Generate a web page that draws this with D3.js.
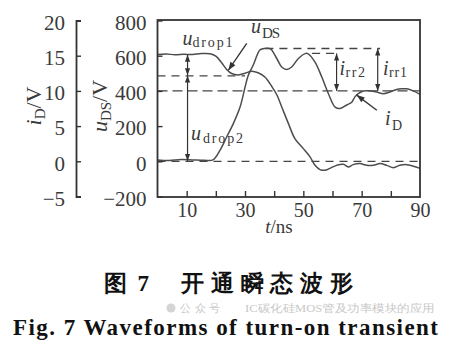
<!DOCTYPE html>
<html><head><meta charset="utf-8">
<script src="https://cdn.jsdelivr.net/npm/d3@7"></script>
<style>
html,body{margin:0;padding:0;background:#fff;}
svg{display:block;}
text{font-family:"Liberation Serif","DejaVu Serif",serif;}
</style></head>
<body>
<svg id="chart" width="455" height="343"></svg>
<script>
// ---------- data ----------
const tU  = [0, 3, 6, 9, 12, 15, 18, 20, 22, 23.7, 25.4, 27.7, 30, 32.3, 34.5, 36.9, 39.2, 40.9, 42.6, 44.9, 47.1, 50, 52.3, 54, 55.7, 57.4, 59.1, 61.4, 63.7, 65.4, 67.1, 69.4, 71.7, 74, 76.3, 78.6, 80.9, 83.1, 85.4, 87.7, 90];
const uDS = [607, 610, 605, 608, 607, 612, 611, 598, 560, 522, 499, 491, 500, 512, 503, 478, 425, 378, 309, 214, 129, 72, 25, -23, -47, -51, -40, -23, -17, -32, -19, -13, -23, -23, -13, -23, -36, -23, -19, -28, -40];
const tI  = [0, 4, 8, 12, 16, 19, 21.4, 23.7, 26, 28.3, 30, 31.1, 32.8, 35.1, 36.3, 38.6, 40.9, 42.6, 44.3, 46, 48.3, 50.6, 51.5, 54, 56.3, 58.6, 60.9, 62.6, 64.9, 66.6, 67.7, 68.8, 70.6, 72.9, 75.1, 77.4, 79.7, 82, 83.7, 85.5, 87.7, 90];
const iD  = [0.2, 0.12, 0.25, 0.2, 0.15, 0.2, 1.55, 3.45, 5.35, 7.7, 10.5, 12.2, 13.65, 15.8, 16.0, 16.0, 14.6, 13.4, 13.05, 13.4, 14.6, 15.3, 15.3, 14.1, 12.0, 9.6, 7.7, 7.5, 8.0, 8.4, 9.15, 9.6, 10.0, 10.0, 9.85, 9.6, 9.85, 10.2, 10.3, 10.3, 10.0, 9.5];
const uTicks = [-200, 0, 200, 400, 600, 800];
const iTicks = [-5, 0, 5, 10, 15, 20];
const tTicks = [10, 20, 30, 40, 50, 60, 70, 80, 90];
const tLabels = [10, 30, 50, 70, 90];
// reference dashed lines [level (V), tStart, tEnd]
const refLevels = [485, 400, 0, 641, 613];
const refStart  = [0, 0, 0, 37, 53];
const refEnd    = [30, 90, 90, 76.3, 61.4];
// measurement double arrows (V): [t, from, to]
const measT    = [10.3, 10.3, 61.4, 75.5];
const measFrom = [605, 487, 613, 641];
const measTo   = [489, 2, 400, 400];
// pointer arrows [t0, v0, t1, v1] in V
const ptrT0 = [30.6, 75.2], ptrV0 = [670, 290];
const ptrT1 = [24.3, 68.3], ptrV1 = [518, 376];

// ---------- scales ----------
const svg = d3.select("#chart");
const x  = d3.scaleLinear([0, 90], [157.5, 420]);
const yU = d3.scaleLinear([-200, 800], [196.5, 20.5]);
const yI = d3.scaleLinear([-5, 20], [196.5, 20.5]);
const ink = "#3a3a3a", curveInk = "#4d4d4d";

// ---------- reference lines ----------
refLevels.forEach((v, k) => {
  svg.append("line")
    .attr("x1", x(refStart[k])).attr("x2", x(refEnd[k]))
    .attr("y1", yU(v)).attr("y2", yU(v))
    .attr("stroke", "#444").attr("stroke-width", 1.3)
    .attr("stroke-dasharray", v === 400 ? "10,5" : "8,6");
});

// ---------- curves ----------
const lineU = d3.line().x((d, k) => x(tU[k])).y(d => yU(d)).curve(d3.curveCatmullRom);
const lineI = d3.line().x((d, k) => x(tI[k])).y(d => yI(d)).curve(d3.curveCatmullRom);
svg.append("path").attr("d", lineU(uDS)).attr("fill", "none").attr("stroke", curveInk).attr("stroke-width", 1.5);
svg.append("path").attr("d", lineI(iD)).attr("fill", "none").attr("stroke", curveInk).attr("stroke-width", 1.5);

// ---------- arrows ----------
function head(px, py, dx, dy, L = 7, W = 2.6) {
  const n = Math.hypot(dx, dy), ux = dx / n, uy = dy / n;
  const bx = px - ux * L, by = py - uy * L;
  svg.append("path")
    .attr("d", `M${px},${py}L${bx - uy * W},${by + ux * W}L${bx + uy * W},${by - ux * W}Z`)
    .attr("fill", "#333");
}
measT.forEach((t, k) => {
  const px = x(t), y0 = yU(measFrom[k]), y1 = yU(measTo[k]);
  svg.append("line").attr("x1", px).attr("x2", px).attr("y1", y0).attr("y2", y1)
    .attr("stroke", "#333").attr("stroke-width", 1.2);
  head(px, y0, 0, y0 - y1);
  head(px, y1, 0, y1 - y0);
});
ptrT0.forEach((t, k) => {
  const x0 = x(t), y0 = yU(ptrV0[k]), x1 = x(ptrT1[k]), y1 = yU(ptrV1[k]);
  svg.append("line").attr("x1", x0).attr("y1", y0).attr("x2", x1).attr("y2", y1)
    .attr("stroke", "#333").attr("stroke-width", 1.3);
  head(x1, y1, x1 - x0, y1 - y0, 8, 3);
});

// ---------- frame & axes ----------
svg.append("rect").attr("x", 157.5).attr("y", 20).attr("width", 262.5).attr("height", 177)
  .attr("fill", "none").attr("stroke", "#333").attr("stroke-width", 1.8);

const axU = svg.append("g").attr("transform", "translate(157.5,0)")
  .call(d3.axisLeft(yU).tickValues(uTicks).tickSize(-5).tickPadding(11));
axU.select(".domain").remove();
const axI = svg.append("g").attr("transform", "translate(76,0)")
  .call(d3.axisLeft(yI).tickValues(iTicks).tickSize(-5).tickSizeOuter(-5).tickPadding(11));
const axT = svg.append("g").attr("transform", "translate(0,197)")
  .call(d3.axisBottom(x).tickValues(tTicks).tickSize(-6).tickPadding(6)
    .tickFormat(d => tLabels.includes(d) ? d : ""));
axT.select(".domain").remove();
[axU, axI, axT].forEach(g => {
  g.selectAll("text").attr("font-family", "Liberation Serif").attr("font-size", 21).attr("fill", ink);
  g.selectAll("line").attr("stroke", "#333").attr("stroke-width", 1.4);
  g.selectAll(".domain").attr("stroke", "#333").attr("stroke-width", 1.8);
});
axU.selectAll("text").attr("dy", "0.42em");
axI.selectAll("text").attr("dy", "0.42em");
axT.selectAll("text").attr("font-size", 20);
axT.selectAll(".tick").filter(d => d === 90).select("line").remove();

// ---------- axis titles ----------
function rotTitle(cx, cy, base, sub) {
  const t = svg.append("text").attr("transform", `translate(${cx},${cy}) rotate(-90)`)
    .attr("text-anchor", "middle").attr("font-size", 22).attr("fill", ink);
  t.append("tspan").attr("font-style", "italic").text(base);
  t.append("tspan").attr("font-size", 15).attr("dy", 4).text(sub);
  t.append("tspan").attr("dy", -4).text("/V");
}
rotTitle(41, 106, "i", "D");
rotTitle(107, 106, "u", "DS");
const xt = svg.append("text").attr("x", 279).attr("y", 233).attr("text-anchor", "middle")
  .attr("font-size", 19).attr("fill", ink);
xt.append("tspan").attr("font-style", "italic").text("t");
xt.append("tspan").text("/ns");

// ---------- annotation labels ----------
function lab(bx, by, base, sx, sy, sub, sl, bs = 20, ss = 14) {
  svg.append("text").attr("x", bx).attr("y", by).attr("font-size", bs).attr("font-style", "italic")
    .attr("fill", ink).text(base);
  const s = svg.append("text").attr("x", sx).attr("y", sy).attr("font-size", ss).attr("fill", ink).text(sub);
  if (sl) s.attr("textLength", sl).attr("lengthAdjust", "spacing");
}
lab(182.5, 45, "u", 192.5, 47, "drop1", 40);
lab(251, 33, "u", 262, 38, "DS", 18, 20, 15);
lab(191, 140, "u", 203, 143, "drop2", 40);
lab(339.5, 75, "i", 345.5, 77, "rr2", 19.5);
lab(383, 75, "i", 389, 77, "rr1", 18);
lab(385, 125, "i", 392, 130, "D", null);

// ---------- captions ----------
svg.append("circle").attr("cx", 171).attr("cy", 308).attr("r", 4.5).attr("fill", "#d4d4d4");
svg.append("text").attr("x", 180).attr("y", 312).attr("font-family", "Noto Sans CJK SC")
  .attr("font-size", 11).attr("fill", "#c8c8c8").attr("textLength", 40).text("公众号");
svg.append("text").attr("x", 245).attr("y", 312).attr("font-family", "Noto Sans CJK SC")
  .attr("font-size", 11).attr("fill", "#c8c8c8").attr("textLength", 190).attr("lengthAdjust", "spacingAndGlyphs")
  .text("IC碳化硅MOS管及功率模块的应用");

svg.append("text").attr("x", 104).attr("y", 291).attr("font-family", "Noto Sans CJK SC")
  .attr("font-weight", 700).attr("font-size", 23).attr("fill", "#111")
  .attr("textLength", 45).attr("lengthAdjust", "spacing").text("图 7");
svg.append("text").attr("x", 181).attr("y", 291).attr("font-family", "Noto Sans CJK SC")
  .attr("font-weight", 700).attr("font-size", 23).attr("fill", "#111")
  .attr("textLength", 172).attr("lengthAdjust", "spacing").text("开通瞬态波形");
svg.append("text").attr("x", 13).attr("y", 335).attr("font-family", "Liberation Serif")
  .attr("font-weight", 700).attr("font-size", 23).attr("fill", "#111")
  .attr("textLength", 425).attr("lengthAdjust", "spacing").text("Fig. 7 Waveforms of turn-on transient");
</script>
</body></html>
